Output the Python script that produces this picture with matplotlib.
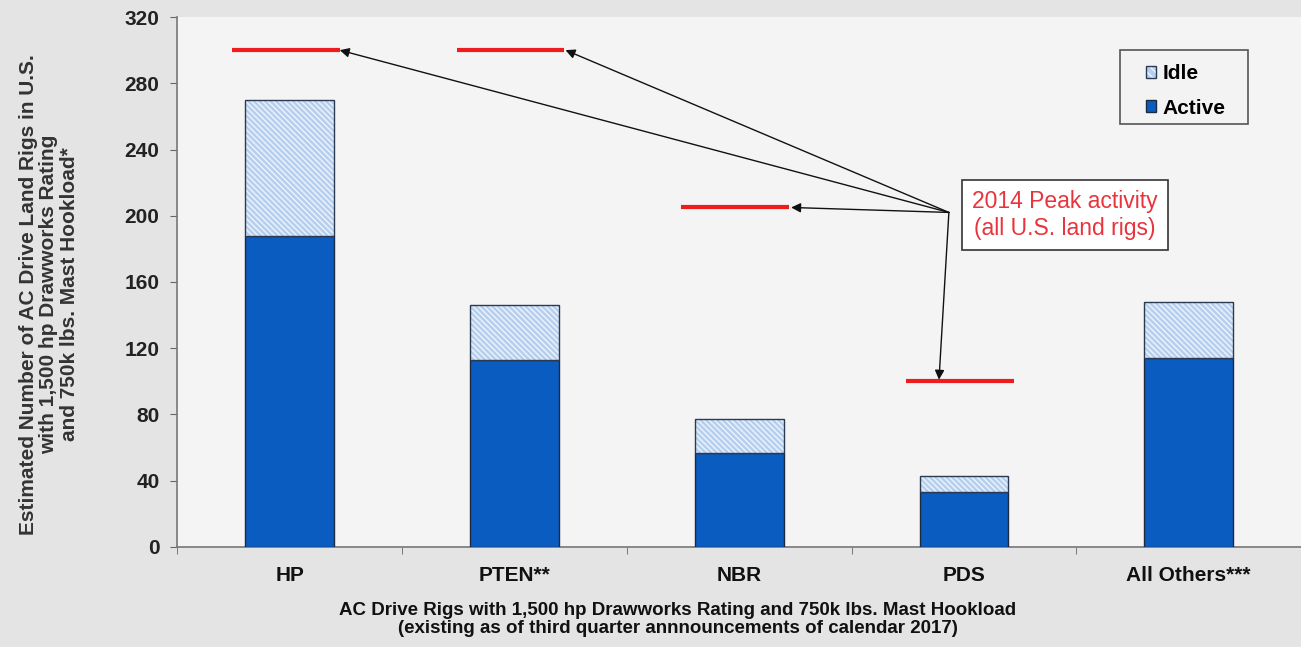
import matplotlib
matplotlib.use("Agg")
import matplotlib.pyplot as plt
from matplotlib.patches import Rectangle, Patch
import numpy as np

plt.rcParams['font.family'] = ['Liberation Sans', 'DejaVu Sans']
plt.rcParams['hatch.linewidth'] = 1.0

categories = ["HP", "PTEN**", "NBR", "PDS", "All Others***"]
active = [188, 113, 57, 33, 114]
idle = [82, 33, 20, 10, 34]
peak_2014 = [300, 300, 205, 100, None]
yticks = [0, 40, 80, 120, 160, 200, 240, 280, 320]

fig = plt.figure(figsize=(13.01, 6.47), dpi=100, facecolor='#e4e4e4')
ax = fig.add_axes([0.1364, 0.1546, 0.8636, 0.8191])
ax.set_facecolor('#f4f4f4')

x = np.arange(len(categories))
w = 0.395
ax.bar(x, active, w, color='#0a5cc0', edgecolor='#1a2a40', linewidth=1.0, zorder=3)
ax.bar(x, idle, w, bottom=active, facecolor='#b6cfee', edgecolor='#eef4fc', linewidth=0,
       hatch='\\\\\\\\\\\\', zorder=3)
ax.bar(x, idle, w, bottom=active, fill=False, edgecolor='#2a3a50', linewidth=1.0, zorder=3.5)

for i, p in enumerate(peak_2014):
    if p is not None:
        ax.plot([i - 0.258, i + 0.222], [p, p], color='#ee1c1c', lw=3, solid_capstyle='butt', zorder=4)

ax.set_xlim(-0.5, len(categories) - 0.5)
ax.set_ylim(0, 320)
ax.set_yticks(yticks)
ax.set_yticklabels([str(t) for t in yticks], fontsize=15, fontweight='bold', color='#222222')
ax.set_xticks(x)
ax.set_xticklabels(categories, fontsize=15, fontweight='bold', color='#111111')
ax.tick_params(axis='x', which='major', length=0, pad=14)
ax.set_xticks(np.arange(-0.5, len(categories), 1.0), minor=True)
ax.tick_params(axis='x', which='minor', length=5, direction='out', color='#666666')
ax.tick_params(axis='y', length=5, direction='out', color='#666666', pad=8)
for s in ['top', 'right']:
    ax.spines[s].set_visible(False)
for s in ['left', 'bottom']:
    ax.spines[s].set_color('#777777')
    ax.spines[s].set_linewidth(1.2)

ax.set_ylabel("Estimated Number of AC Drive Land Rigs in U.S.\nwith 1,500 hp Drawworks Rating\nand 750k lbs. Mast Hookload*",
              fontsize=15, fontweight='bold', color='#333333', linespacing=1.1)
ax.yaxis.set_label_coords(-0.088, 0.477)
fig.text(0.521, 0.043, "AC Drive Rigs with 1,500 hp Drawworks Rating and 750k lbs. Mast Hookload\n(existing as of third quarter annnouncements of calendar 2017)",
         ha='center', va='center', fontsize=13.5, fontweight='bold', color='#111111', linespacing=1.05)

# annotation box
src = (2.933, 202)
ax.text(3.449, 200.5, "2014 Peak activity\n(all U.S. land rigs)", ha='center', va='center',
        fontsize=16.5, color='#e8343c', linespacing=1.2, zorder=6,
        bbox=dict(boxstyle='square,pad=0.45', fc='white', ec='#333333', lw=1.2))
targets = [(0.222, 300), (1.227, 300), (2.231, 205), (2.889, 101)]
for t in targets:
    ax.annotate("", xy=t, xytext=src,
                arrowprops=dict(arrowstyle='-|>', color='#111111', lw=1.0,
                                mutation_scale=14, shrinkA=0, shrinkB=0), zorder=5)

# legend frame
ax.add_patch(Rectangle((0.839, 0.798), 0.114, 0.1396, transform=ax.transAxes,
                       fc='#f3f3f3', ec='#555555', lw=1.2, zorder=6))
idle_h = (Patch(facecolor='#b6cfee', edgecolor='#eef4fc', linewidth=0, hatch='\\\\\\\\'),
          Patch(fill=False, edgecolor='#2a3a50', linewidth=1.0))
active_h = Patch(facecolor='#0a5cc0', edgecolor='#1a2a40', linewidth=1.0)
leg = ax.legend([idle_h, active_h], ['Idle', 'Active'], loc='upper left', bbox_to_anchor=(0.862, 0.911),
                prop={'weight': 'bold', 'size': 15}, frameon=False,
                handlelength=0.5, handleheight=0.5, handletextpad=0.3, labelspacing=0.75,
                borderpad=0, borderaxespad=0)
leg.set_zorder(7)

fig.savefig("out.png", dpi=100, facecolor=fig.get_facecolor())
